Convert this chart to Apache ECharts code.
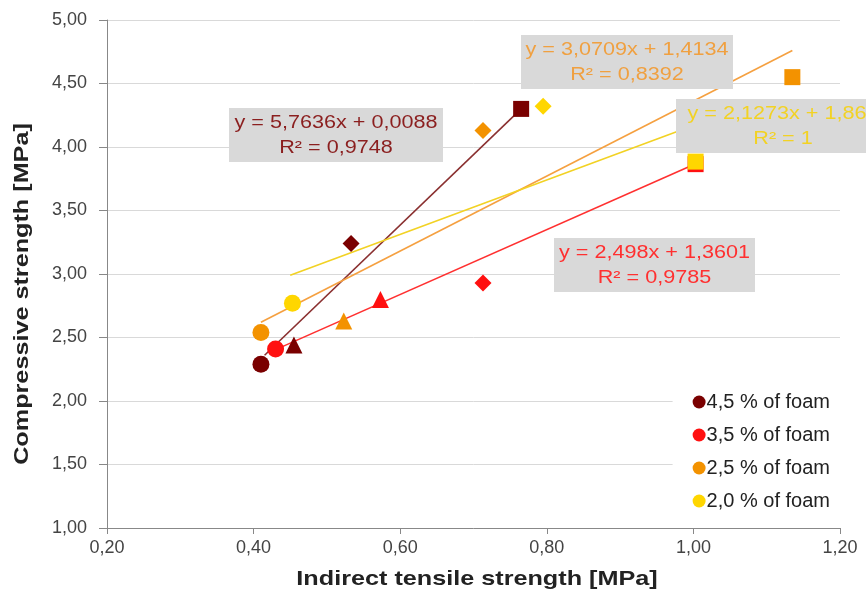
<!DOCTYPE html>
<html>
<head>
<meta charset="utf-8">
<script src="https://cdn.jsdelivr.net/npm/echarts@6/dist/echarts.min.js"></script>
<style>
  html, body { margin: 0; padding: 0; background: #fff; }
  #chart { width: 866px; height: 595px; }
</style>
</head>
<body>
<div id="chart"></div>
<script>
// series names
const foamNames = ['4,5 % of foam', '3,5 % of foam', '2,5 % of foam', '2,0 % of foam'];
const foamColors = ['#7a0000', '#ff1010', '#f39200', '#ffd600'];
const trendColors = ['#8a3030', '#ff3030', '#f5a040', '#f2d224'];
const eqColors = ['#8b1f1f', '#ff3030', '#f0a040', '#f2d224'];

// measured points: indirect tensile [MPa] / compressive [MPa]
const tensile45 = [0.41, 0.455, 0.533, 0.765];
const compressive45 = [2.29, 2.44, 3.24, 4.30];
const symbols45 = ['circle', 'triangle', 'diamond', 'rect'];

const tensile35 = [0.43, 0.573, 0.713, 1.003];
const compressive35 = [2.41, 2.80, 2.93, 3.865];
const symbols35 = ['circle', 'triangle', 'diamond', 'rect'];

const tensile25 = [0.41, 0.523, 0.713, 1.135];
const compressive25 = [2.54, 2.63, 4.13, 4.55];
const symbols25 = ['circle', 'triangle', 'diamond', 'rect'];

const tensile20 = [0.453, 0.795, 1.003];
const compressive20 = [2.77, 4.32, 3.885];
const symbols20 = ['circle', 'diamond', 'rect'];

// trend line ends as drawn
const trendX45 = [0.415, 0.765], trendY45 = [2.36, 4.30];
const trendX35 = [0.44, 1.00], trendY35 = [2.43, 3.86];
const trendX25 = [0.41, 1.135], trendY25 = [2.62, 4.76];
const trendX20 = [0.45, 1.00], trendY20 = [2.99, 4.17];

// equation labels
const eqLines = [
  ['y = 5,7636x + 0,0088', 'R² = 0,9748'],
  ['y = 2,498x + 1,3601', 'R² = 0,9785'],
  ['y = 3,0709x + 1,4134', 'R² = 0,8392'],
  ['y = 2,1273x + 1,862', 'R² = 1']
];

const xTitle = 'Indirect tensile strength [MPa]';
const yTitle = 'Compressive strength [MPa]';

const fmt = v => v.toFixed(2).replace('.', ',');
const zip = (xs, ys) => xs.map((x, i) => [x, ys[i]]);

const groups = [
  [tensile45, compressive45, symbols45, trendX45, trendY45],
  [tensile35, compressive35, symbols35, trendX35, trendY35],
  [tensile25, compressive25, symbols25, trendX25, trendY25],
  [tensile20, compressive20, symbols20, trendX20, trendY20]
];

const series = [];
// trend lines first so markers sit on top
groups.forEach((g, i) => {
  series.push({
    type: 'line',
    name: 'trend' + i,
    data: zip(g[3], g[4]),
    symbol: 'none',
    silent: true,
    lineStyle: { color: trendColors[i], width: 1.6 },
    z: 2
  });
});
groups.forEach((g, i) => {
  series.push({
    type: 'scatter',
    name: foamNames[i],
    itemStyle: { color: foamColors[i], opacity: 1 },
    data: g[0].map((x, k) => ({
      value: [x, g[1][k]],
      symbol: g[2][k],
      symbolSize: g[2][k] === 'rect' ? 16 : 17
    })),
    z: 3
  });
});

const font = 'Liberation Sans, Arial, sans-serif';

// grey box with the trend equation, text a bit wide like the original
function eqBox(left, top, w, idx) {
  return {
    type: 'group',
    x: left,
    y: top,
    children: [
      { type: 'rect', z: 100, shape: { x: 0, y: 0, width: w, height: 54 }, style: { fill: '#d9d9d9' } },
      {
        type: 'text', z: 101, x: w / 2, y: 3, scaleX: 1.2,
        style: {
          text: eqLines[idx].join('\n'), fill: eqColors[idx],
          font: '18px ' + font, align: 'center', verticalAlign: 'top', lineHeight: 25
        }
      }
    ]
  };
}

const chart = echarts.init(document.getElementById('chart'));
chart.setOption({
  animation: false,
  backgroundColor: '#fff',
  grid: { left: 107, right: 26, top: 20, bottom: 67 },
  xAxis: {
    type: 'value', min: 0.2, max: 1.2, interval: 0.2,
    axisLine: { show: true, lineStyle: { color: '#888' } },
    axisTick: { show: true, length: 6, lineStyle: { color: '#888' } },
    axisLabel: { formatter: fmt, fontFamily: font, fontSize: 18, color: '#444', margin: 11 },
    splitLine: { show: false }
  },
  yAxis: {
    type: 'value', min: 1, max: 5, interval: 0.5,
    axisLine: { show: true, lineStyle: { color: '#888' } },
    axisTick: { show: true, length: 8, lineStyle: { color: '#888' } },
    axisLabel: { formatter: fmt, fontFamily: font, fontSize: 18, color: '#444', margin: 20 },
    splitLine: { show: true, lineStyle: { color: '#d9d9d9' } }
  },
  legend: {
    data: foamNames,
    orient: 'vertical',
    right: 26,
    top: 385,
    padding: [7, 10, 7, 20],
    backgroundColor: '#fff',
    itemGap: 13,
    itemWidth: 13,
    itemHeight: 13,
    icon: 'circle',
    textStyle: { fontFamily: font, fontSize: 20, color: '#222', padding: [0, 0, 0, -4] }
  },
  graphic: [
    eqBox(229, 108, 214, 0),
    eqBox(554, 238, 201, 1),
    eqBox(521, 35, 212, 2),
    eqBox(676, 99, 214, 3),
    {
      type: 'text', x: 477, y: 579, scaleX: 1.2, z: 100,
      style: { text: xTitle, font: 'bold 21px ' + font, fill: '#222', align: 'center', verticalAlign: 'middle' }
    },
    {
      type: 'text', x: 22, y: 294, rotation: Math.PI / 2, scaleX: 1.2, z: 100,
      style: { text: yTitle, font: 'bold 21px ' + font, fill: '#222', align: 'center', verticalAlign: 'middle' }
    }
  ],
  series: series
});
</script>
</body>
</html>
